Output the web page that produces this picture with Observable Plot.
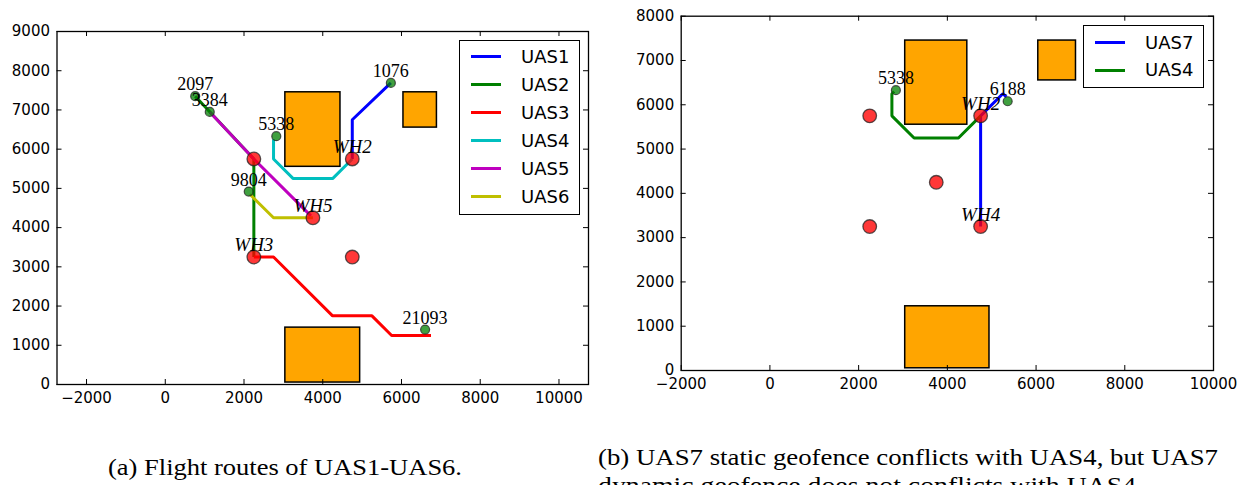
<!DOCTYPE html>
<html><head><meta charset="utf-8">
<script src="https://cdn.jsdelivr.net/npm/d3@7"></script>
<script src="https://cdn.jsdelivr.net/npm/@observablehq/plot@0.6"></script>
<style>
html,body{margin:0;padding:0;background:#fff}
#root{position:relative;width:1238px;height:485px;overflow:hidden;background:#fff}
.panel{position:absolute;top:0}
.legend{position:absolute;border:1.3px solid #000;background:#fff;box-sizing:border-box}
.lrow{position:absolute;height:0}
.lrow .sw{position:absolute;left:0;top:-1.5px;width:30px;height:3px}
.lrow .lt{position:absolute;top:-11px;line-height:22px;font-family:"DejaVu Sans",sans-serif;font-size:18px;color:#000;white-space:nowrap}
#caps{position:absolute;left:0;top:0}
</style></head>
<body><div id="root"></div>
<script>
// ---------- data ----------
const xTicksA = [-2000, 0, 2000, 4000, 6000, 8000, 10000];
const yTicksA = [0, 1000, 2000, 3000, 4000, 5000, 6000, 7000, 8000, 9000];
const xTicksB = [-2000, 0, 2000, 4000, 6000, 8000, 10000];
const yTicksB = [0, 1000, 2000, 3000, 4000, 5000, 6000, 7000, 8000];

const fenceX1 = [3050, 6050, 3050];
const fenceX2 = [4450, 6900, 4950];
const fenceY1 = [5550, 6550, 50];
const fenceY2 = [7450, 7450, 1450];

const whNames = ["WH1", "WH2", "WH3", "WH4", "WH5"];
const whX = [2250, 4750, 2250, 4750, 3750];
const whY = [5750, 5750, 3250, 3250, 4250];
const whLabelsA = ["WH2", "WH3", "WH5"];
const whLabelsB = ["WH2", "WH4"];

const originIdsA = ["2097", "3384", "5338", "1076", "9804", "21093"];
const originXA = [760, 1130, 2820, 5730, 2120, 6600];
const originYA = [7350, 6950, 6330, 7690, 4920, 1400];
const originIdsB = ["5338", "6188"];
const originXB = [2840, 5360];
const originYB = [6330, 6080];

const seriesA = ["UAS1", "UAS2", "UAS3", "UAS4", "UAS5", "UAS6"];
const colorsA = ["#0000ff", "#008000", "#ff0000", "#00bfbf", "#bf00bf", "#bfbf00"];
const routesA = [
  [[5730, 7690], [4750, 6750], [4750, 5750]],
  [[760, 7350], [2250, 5750], [2250, 3250]],
  [[2250, 3250], [2750, 3250], [4250, 1750], [5250, 1750], [5750, 1250], [6750, 1250]],
  [[2750, 6250], [2750, 5750], [3250, 5250], [4250, 5250], [4750, 5750]],
  [[1130, 6950], [2250, 5750], [3700, 4300]],
  [[2150, 4850], [2250, 4750], [2750, 4250], [3750, 4250]]
];
const seriesB = ["UAS7", "UAS4"];
const colorsB = ["#0000ff", "#008000"];
const routesB = [
  [[4750, 3250], [4750, 5750], [5250, 6250], [5330, 6180]],
  [[2800, 6300], [2750, 6250], [2750, 5750], [3250, 5250], [4250, 5250], [4750, 5750]]
];

const captionA = "(a) Flight routes of UAS1-UAS6.";
const captionB1 = "(b) UAS7 static geofence conflicts with UAS4, but UAS7";
const captionB2 = "dynamic geofence does not conflicts with UAS4.";

// ---------- build tables ----------
const fences = fenceX1.map((x1, i) => ({x1, x2: fenceX2[i], y1: fenceY1[i], y2: fenceY2[i]}));
const whs = whNames.map((name, i) => ({name, x: whX[i], y: whY[i]}));
const origins = (ids, xs, ys) => ids.map((id, i) => ({id, x: xs[i], y: ys[i]}));
const routeRows = (names, routes) => names.flatMap((s, i) => routes[i].map(([x, y]) => ({uas: s, x, y})));
const fmt = d => (d < 0 ? "\u2212" + Math.abs(d) : String(d));

function panel({width, height, ml, mr, mt, mb, xDomain, yDomain, xTicks, yTicks, series, colors, routes, orig, labels}) {
  const fh = height - mt - mb, fw = width - ml - mr;
  const tl = 5;
  return Plot.plot({
    width, height, marginLeft: ml, marginRight: mr, marginTop: mt, marginBottom: mb,
    x: {domain: xDomain, axis: null},
    y: {domain: yDomain, axis: null},
    color: {domain: series, range: colors},
    style: {fontFamily: "DejaVu Sans, sans-serif", background: "white", overflow: "visible"},
    marks: [
      Plot.rect(fences, {x1: "x1", x2: "x2", y1: "y1", y2: "y2", fill: "#ffa500", stroke: "black", strokeWidth: 1.5}),
      Plot.line(routeRows(series, routes), {x: "x", y: "y", z: "uas", stroke: "uas", strokeWidth: 3, strokeLinejoin: "miter", strokeLinecap: "butt"}),
      Plot.dot(whs, {x: "x", y: "y", r: 6.8, fill: "#ff0000", fillOpacity: 0.78, stroke: "#222", strokeOpacity: 0.75, strokeWidth: 1.3}),
      Plot.dot(orig, {x: "x", y: "y", r: 4.5, fill: "#008000", fillOpacity: 0.75, stroke: "#222", strokeOpacity: 0.75, strokeWidth: 1.2}),
      Plot.text(orig, {x: "x", y: "y", text: "id", dy: -6, lineAnchor: "bottom", fontFamily: "Liberation Serif, serif", fontSize: 18, fill: "black"}),
      Plot.text(whs.filter(d => labels.includes(d.name)), {x: "x", y: "y", text: d => d.name, dy: -6, lineAnchor: "bottom", fontFamily: "Liberation Serif, serif", fontStyle: "italic", fontSize: 19, fill: "black"}),
      Plot.ruleX(xTicks, {x: d => d, insetTop: fh - tl, stroke: "black", strokeWidth: 1}),
      Plot.ruleX(xTicks, {x: d => d, insetBottom: fh - tl, stroke: "black", strokeWidth: 1}),
      Plot.ruleY(yTicks, {y: d => d, insetRight: fw - tl, stroke: "black", strokeWidth: 1}),
      Plot.ruleY(yTicks, {y: d => d, insetLeft: fw - tl, stroke: "black", strokeWidth: 1}),
      Plot.frame({stroke: "black", strokeWidth: 1.3}),
      Plot.axisX(xTicks, {anchor: "bottom", tickSize: 0, tickPadding: 8, tickFormat: fmt, label: null, fontSize: 15, fill: "black"}),
      Plot.axisY(yTicks, {anchor: "left", tickSize: 0, tickPadding: 7, tickFormat: fmt, label: null, fontSize: 15, fill: "black"})
    ]
  });
}

const root = document.getElementById("root");

const pa = panel({width: 600, height: 410, ml: 56.5, mr: 12, mt: 31, mb: 26,
  xDomain: [-2750, 10750], yDomain: [0, 9000], xTicks: xTicksA, yTicks: yTicksA,
  series: seriesA, colors: colorsA, routes: routesA,
  orig: origins(originIdsA, originXA, originYA), labels: whLabelsA});
pa.classList.add("panel"); pa.style.left = "0px";
root.appendChild(pa);

const pb = panel({width: 628, height: 400, ml: 70.7, mr: 25, mt: 15.7, mb: 30,
  xDomain: [-2000, 10000], yDomain: [0, 8000], xTicks: xTicksB, yTicks: yTicksB,
  series: seriesB, colors: colorsB, routes: routesB,
  orig: origins(originIdsB, originXB, originYB), labels: whLabelsB});
pb.classList.add("panel"); pb.style.left = "610px";
root.appendChild(pb);

// ---------- legends ----------
function legend(left, top, w, h, names, colors, rowY0, rowStep, lineX, textX) {
  const box = document.createElement("div");
  box.className = "legend";
  Object.assign(box.style, {left: left + "px", top: top + "px", width: w + "px", height: h + "px"});
  names.forEach((n, i) => {
    const row = document.createElement("div");
    row.className = "lrow";
    row.style.left = lineX + "px";
    row.style.top = (rowY0 + i * rowStep) + "px";
    const sw = document.createElement("div"); sw.className = "sw"; sw.style.background = colors[i];
    const lt = document.createElement("div"); lt.className = "lt"; lt.style.left = (textX - lineX) + "px"; lt.textContent = n;
    row.appendChild(sw); row.appendChild(lt); box.appendChild(row);
  });
  root.appendChild(box);
}
legend(459, 40, 121, 175, seriesA, colorsA, 15.5, 28, 11, 61);
legend(1083, 25, 121, 63, seriesB, colorsB, 16.5, 27.6, 11, 61);

// ---------- captions ----------
const ns = "http://www.w3.org/2000/svg";
const cs = document.createElementNS(ns, "svg");
cs.setAttribute("id", "caps"); cs.setAttribute("width", 1238); cs.setAttribute("height", 485);
function cap(txt, x, y, len) {
  const t = document.createElementNS(ns, "text");
  t.setAttribute("x", x); t.setAttribute("y", y);
  t.setAttribute("textLength", len); t.setAttribute("lengthAdjust", "spacingAndGlyphs");
  t.setAttribute("font-family", "Liberation Serif, serif"); t.setAttribute("font-size", 23);
  t.setAttribute("fill", "black");
  t.textContent = txt; cs.appendChild(t);
}
cap(captionA, 108, 475, 354);
cap(captionB1, 598, 465, 620);
cap(captionB2, 598, 493, 545);
root.appendChild(cs);
</script>
</body></html>
